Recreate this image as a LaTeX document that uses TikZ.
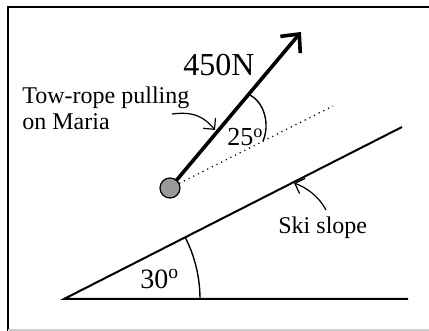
\documentclass[tikz,border=0pt]{standalone}
\usepackage{fontspec}
\setmainfont{Liberation Serif}
\usetikzlibrary{arrows.meta,calc}

\begin{document}
\begin{tikzpicture}[
  x=0.5pt, y=-0.5pt,
  every node/.style={inner sep=0pt,font=\fontsize{12}{13}\selectfont},
  ground/.style={draw,line width=1pt},
  angle/.style={draw,line width=0.7pt},
  pointer/.style={draw,line width=0.6pt,-{Straight Barb[length=4pt,width=8pt]}},
  force/.style={draw,line width=1.8pt,-{Straight Barb[length=7pt,width=13pt]}}
]
  \useasboundingbox (0,0) rectangle (429,331);
  \draw[line width=1pt] (7.5,340) |- (440,7.5);
  \draw[black!20,line width=0.8pt] (7.5,330) -- (429,330);

  \coordinate (foot) at (64,299);
  \coordinate (top) at (402,127);
  \coordinate (gend) at (408,299);
  \coordinate (maria) at (170,188);
  \coordinate (pull) at (301,32);
  \coordinate (dotend) at (333,106);

  \draw[ground] (gend) -- (foot) -- (top);
  \draw[angle] ($(foot)+(136,0)$) arc[start angle=0,end angle=-27,radius=136];
  \node[anchor=base west,font=\fontsize{14}{16}\selectfont] (slopeangle) at (140,289) {30\textsuperscript{o}};

  \draw[dotted,line width=0.6pt] (maria) -- (dotend);
  \draw[force] (maria) -- (pull);
  \draw[angle] ($(maria)!0.6!(pull)$) .. controls (265,102) and (270,125) .. ($(maria)!0.57!(dotend)$);
  \node[anchor=base west,font=\fontsize{13}{15}\selectfont] (ropeangle) at (227,146) {25\textsuperscript{o}};
  \node[draw,circle,fill=black!40,line width=0.6pt,minimum size=10pt] (ball) at (maria) {};

  \node[anchor=base west,font=\fontsize{16}{18}\selectfont] (force) at (183,76) {450N};
  \node[anchor=north west,align=left] (rope) at (22,86) {Tow-rope pulling\\on Maria};
  \draw[pointer] (172,114) .. controls (195,111) and (205,118) .. (215,130);

  \node[anchor=base west] (slope) at (278,234) {Ski slope};
  \draw[pointer] (326,210) .. controls (318,195) and (305,187) .. (294,183);
\end{tikzpicture}
\end{document}
